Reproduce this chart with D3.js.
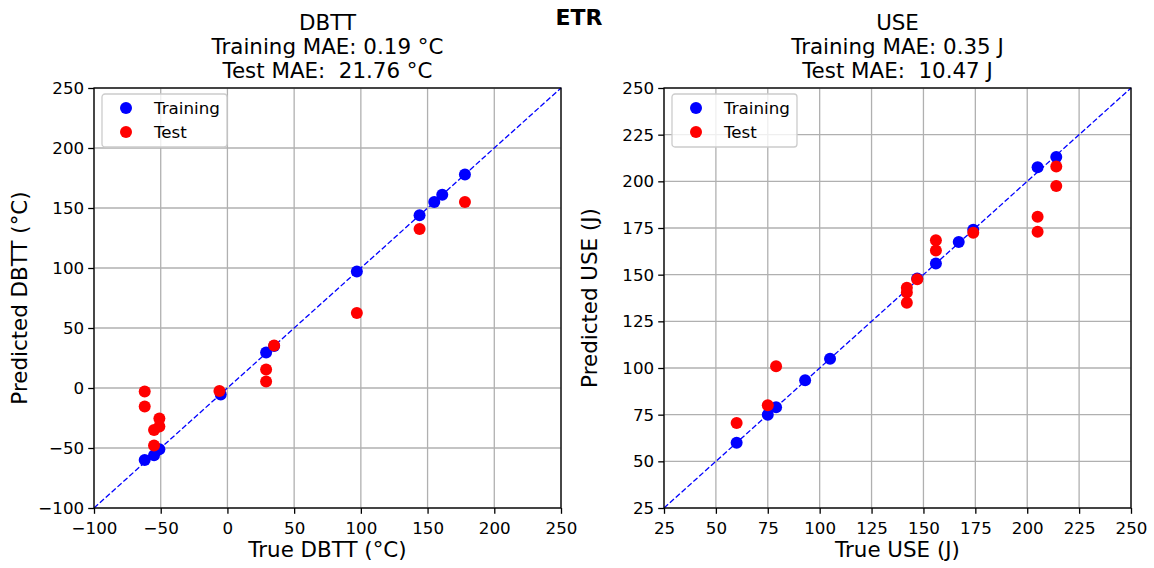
<!DOCTYPE html>
<html>
<head>
<meta charset="utf-8">
<script src="https://cdn.jsdelivr.net/npm/d3@7"></script>
<style>
	body { margin: 0; background: #fff; }
	text { font-family: "DejaVu Sans", sans-serif; fill: #000; }
</style>
</head>
<body>
<script>
// DBTT panel values
var dbttTrainTrue = [-62, -55, -51, -5, 29, 35, 97, 144, 155, 161, 178]
var dbttTrainPred = [-60, -56, -51, -5.5, 29.5, 35, 97, 144, 155, 161, 178]
var dbttTestTrue = [-62, -62, -51, -51, -55, -55, -6, 29, 29, 35, 97, 144, 178]
var dbttTestPred = [-3, -15.5, -25.5, -32, -35, -48, -2.5, 15.5, 5.5, 35.5, 62.5, 132.5, 155]
var dbttTicks = [-100, -50, 0, 50, 100, 150, 200, 250]

// USE panel values
var useTrainTrue = [60, 75, 79, 93, 105, 147, 156, 167, 174, 205, 214]
var useTrainPred = [60, 75, 79, 93.5, 105, 148, 156, 167.5, 174, 207.5, 213]
var useTestTrue = [60, 75, 79, 142, 142, 142, 147, 156, 156, 174, 205, 205, 214, 214]
var useTestPred = [70.5, 80, 101, 143, 140.5, 135, 147.5, 168.5, 163, 172.5, 181, 173, 208, 197.5]
var useTicks = [25, 50, 75, 100, 125, 150, 175, 200, 225, 250]

var width = 1154, height = 568
var svg = d3.select("body").append("svg")
	.attr("width", width)
	.attr("height", height)

svg.append("text")
	.attr("x", 579).attr("y", 25)
	.attr("text-anchor", "middle")
	.style("font-size", "22px")
	.style("font-weight", "bold")
	.text("ETR")

var zip = (a, b) => a.map((v, i) => [v, b[i]])

function drawPanel(left, cfg) {
	var top = 88, w = 467, h = 420
	var g = svg.append("g").attr("transform", "translate(" + left + "," + top + ")")
	var x = d3.scaleLinear().domain(cfg.domain).range([0, w])
	var y = d3.scaleLinear().domain(cfg.domain).range([h, 0])
	var fmt = (d) => String(d).replace("-", "\u2212")

	// grid
	g.append("g").selectAll("line").data(cfg.ticks).enter().append("line")
		.attr("x1", (d) => x(d)).attr("x2", (d) => x(d))
		.attr("y1", 0).attr("y2", h)
		.attr("stroke", "#b0b0b0").attr("stroke-width", 1.3)
	g.append("g").selectAll("line").data(cfg.ticks).enter().append("line")
		.attr("y1", (d) => y(d)).attr("y2", (d) => y(d))
		.attr("x1", 0).attr("x2", w)
		.attr("stroke", "#b0b0b0").attr("stroke-width", 1.3)

	// identity line
	g.append("line")
		.attr("x1", x(cfg.domain[0])).attr("y1", y(cfg.domain[0]))
		.attr("x2", x(cfg.domain[1])).attr("y2", y(cfg.domain[1]))
		.attr("stroke", "blue").attr("stroke-width", 1.3)
		.attr("stroke-dasharray", "5.5,2.4")

	g.append("g").selectAll("circle").data(zip(cfg.trainTrue, cfg.trainPred)).enter().append("circle")
		.attr("cx", (d) => x(d[0])).attr("cy", (d) => y(d[1])).attr("r", 6)
		.attr("fill", "blue")
	g.append("g").selectAll("circle").data(zip(cfg.testTrue, cfg.testPred)).enter().append("circle")
		.attr("cx", (d) => x(d[0])).attr("cy", (d) => y(d[1])).attr("r", 6)
		.attr("fill", "red")

	// axes
	var xAxis = g.append("g").attr("transform", "translate(0," + h + ")")
		.call(d3.axisBottom(x).tickValues(cfg.ticks).tickFormat(fmt).tickSizeOuter(0).tickSize(5.8).tickPadding(4))
	var yAxis = g.append("g")
		.call(d3.axisLeft(y).tickValues(cfg.ticks).tickFormat(fmt).tickSizeOuter(0).tickSize(5.8).tickPadding(4))
	;[xAxis, yAxis].forEach((a) => {
		a.select(".domain").remove()
		a.selectAll("line").attr("stroke", "#000").attr("stroke-width", 1.3)
		a.selectAll("text").style("font-size", "16.7px").attr("font-family", null)
	})
	xAxis.selectAll("text").attr("dy", "0.95em")
	g.append("rect").attr("width", w).attr("height", h)
		.attr("fill", "none").attr("stroke", "#000").attr("stroke-width", 1.3)

	// titles
	var title = g.append("text").attr("text-anchor", "middle").attr("x", w / 2)
		.attr("xml:space", "preserve").style("white-space", "pre")
		.style("font-size", "21.4px")
	cfg.title.forEach((t, i) => {
		title.append("tspan").attr("x", w / 2).attr("y", -58 + i * 24).text(t)
	})
	g.append("text").attr("x", w / 2).attr("y", h + 49)
		.attr("text-anchor", "middle").style("font-size", "21.4px").text(cfg.xLabel)
	g.append("text").attr("transform", "translate(-67," + (h / 2) + ") rotate(-90)")
		.attr("text-anchor", "middle").style("font-size", "21.4px").text(cfg.yLabel)

	// legend
	var lg = g.append("g").attr("transform", "translate(8,6)")
	lg.append("rect").attr("width", 125).attr("height", 53).attr("rx", 3)
		.attr("fill", "#fff").attr("fill-opacity", 0.8)
		.attr("stroke", "#cccccc").attr("stroke-width", 1.3)
	;[["Training", "blue"], ["Test", "red"]].forEach((e, i) => {
		lg.append("circle").attr("cx", 24).attr("cy", 14 + i * 24).attr("r", 6).attr("fill", e[1])
		lg.append("text").attr("x", 52).attr("y", 20 + i * 24).style("font-size", "16.7px").text(e[0])
	})
}

drawPanel(94, {
	domain: [-100, 250], ticks: dbttTicks,
	trainTrue: dbttTrainTrue, trainPred: dbttTrainPred,
	testTrue: dbttTestTrue, testPred: dbttTestPred,
	title: ["DBTT", "Training MAE: 0.19 \u00b0C", "Test MAE:  21.76 \u00b0C"],
	xLabel: "True DBTT (\u00b0C)", yLabel: "Predicted DBTT (\u00b0C)"
})
drawPanel(664, {
	domain: [25, 250], ticks: useTicks,
	trainTrue: useTrainTrue, trainPred: useTrainPred,
	testTrue: useTestTrue, testPred: useTestPred,
	title: ["USE", "Training MAE: 0.35 J", "Test MAE:  10.47 J"],
	xLabel: "True USE (J)", yLabel: "Predicted USE (J)"
})
</script>
</body>
</html>
